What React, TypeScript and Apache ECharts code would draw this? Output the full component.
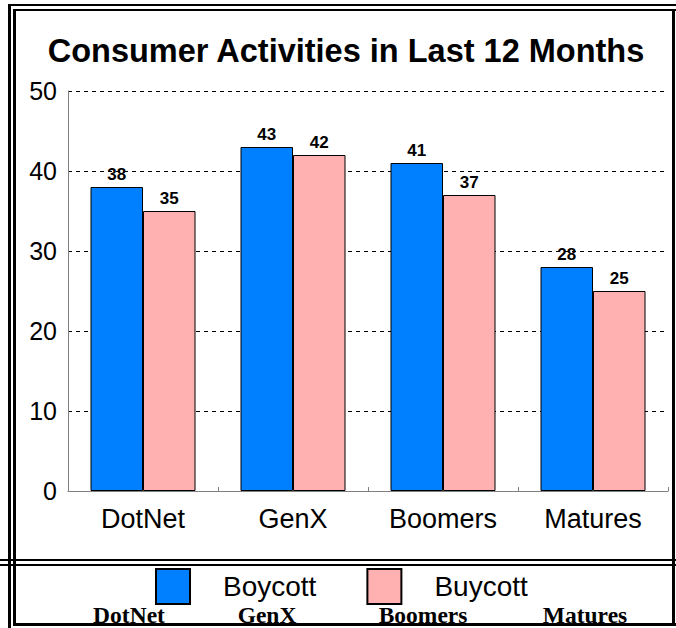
import React, { useEffect, useRef } from "react";
import * as echarts from "echarts";

const categories = ["DotNet", "GenX", "Boomers", "Matures"];
const boycott = [38, 43, 41, 28];
const buycott = [35, 42, 37, 25];
const seriesNames = ["Boycott", "Buycott"];
const footerLabels = ["DotNet", "GenX", "Boomers", "Matures"];
const footerX = [129, 267, 423, 585];
const titleText = "Consumer Activities in Last 12 Months";

const SANS = "'Liberation Sans', Arial, sans-serif";
const SERIF = "'Liberation Serif', 'Times New Roman', serif";

function hline(y: number, x1: number, x2: number, w: number) {
  return { type: "line", silent: true, shape: { x1, y1: y, x2, y2: y }, style: { stroke: "#000", lineWidth: w } };
}
function vline(x: number, y1: number, y2: number, w: number) {
  return { type: "line", silent: true, shape: { x1: x, y1, x2: x, y2 }, style: { stroke: "#000", lineWidth: w } };
}

export default function App() {
  const ref = useRef<HTMLDivElement>(null);
  useEffect(() => {
    if (!ref.current) return;
    const chart = echarts.init(ref.current, undefined, { renderer: "svg" });
    const labelCfg = {
      show: true,
      position: "top",
      distance: 4,
      fontFamily: SANS,
      fontWeight: "bold",
      fontSize: 17,
      color: "#000",
    };
    chart.setOption({
      animation: false,
      backgroundColor: "#fff",
      grid: { left: 68, right: 8, top: 91, bottom: 137, containLabel: false },
      xAxis: {
        type: "category",
        data: categories,
        axisLine: { lineStyle: { color: "#808080", width: 1 } },
        axisTick: { show: true, inside: true, length: 4, lineStyle: { color: "#808080" } },
        axisLabel: { fontFamily: SANS, fontSize: 27, color: "#000", margin: 14 },
      },
      yAxis: {
        type: "value",
        min: 0,
        max: 50,
        interval: 10,
        axisLine: { show: true, lineStyle: { color: "#808080", width: 1 } },
        axisTick: { show: false },
        axisLabel: { fontFamily: SANS, fontSize: 25, color: "#000", margin: 11 },
        splitLine: { show: true, lineStyle: { color: "#000", width: 1, type: [4, 4] } },
      },
      legend: {
        left: 155,
        top: 568,
        padding: 0,
        itemWidth: 34,
        itemHeight: 35,
        itemGap: 50,
        icon: "rect",
        data: seriesNames,
        textStyle: { fontFamily: SANS, fontSize: 28, color: "#000", padding: [0, 0, 0, 28] },
      },
      series: [
        {
          name: seriesNames[0],
          type: "bar",
          data: boycott,
          barGap: "0%",
          barCategoryGap: "30%",
          itemStyle: { color: "#0080FF", borderColor: "#000", borderWidth: 1 },
          label: labelCfg,
        },
        {
          name: seriesNames[1],
          type: "bar",
          data: buycott,
          barGap: "0%",
          barCategoryGap: "30%",
          itemStyle: { color: "#FFB0B0", borderColor: "#000", borderWidth: 1 },
          label: labelCfg,
        },
      ],
      graphic: [
        hline(5, 8, 676, 2),
        hline(10, 13, 676, 2),
        vline(9.5, 4, 628, 3),
        vline(14.5, 9, 626, 3),
        vline(673.5, 9, 626, 3),
        hline(560, 0, 676, 2),
        hline(565, 0, 676, 2),
        hline(624.5, 13, 676, 3),
        {
          type: "text",
          x: 346,
          y: 50.5,
          silent: true,
          style: {
            text: titleText,
            font: `bold 32.5px ${SANS}`,
            fill: "#000",
            align: "center",
            verticalAlign: "middle",
          },
        },
        ...footerLabels.map((t, i) => ({
          type: "text",
          x: footerX[i],
          y: 614.5,
          silent: true,
          style: {
            text: t,
            font: `bold 23.5px ${SERIF}`,
            fill: "#000",
            align: "center",
            verticalAlign: "middle",
          },
        })),
      ],
    });
    return () => chart.dispose();
  }, []);
  return (
    <div
      ref={ref}
      style={{ position: "absolute", left: 0, top: 0, width: 676, height: 628 }}
    />
  );
}
